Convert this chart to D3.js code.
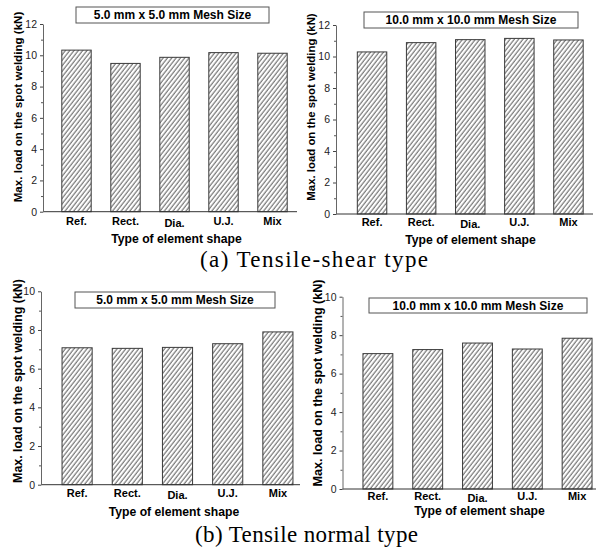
<!DOCTYPE html>
<html>
<head>
<meta charset="utf-8">
<script src="https://cdn.jsdelivr.net/npm/d3@7"></script>
<style>
  body { margin: 0; background: #fff; }
  svg { display: block; }
</style>
</head>
<body>
<div id="chart"></div>
<script>
// data
var categories = ["Ref.", "Rect.", "Dia.", "U.J.", "Mix"];
var shear5 = [10.33, 9.48, 9.87, 10.17, 10.13];
var shear10 = [10.29, 10.88, 11.07, 11.15, 11.05];
var normal5 = [7.08, 7.05, 7.10, 7.29, 7.90];
var normal10 = [7.04, 7.25, 7.59, 7.28, 7.84];
var meshLabels = ["5.0 mm x 5.0 mm Mesh Size", "10.0 mm x 10.0 mm Mesh Size"];
var shearTicks = [0, 2, 4, 6, 8, 10, 12];
var normalTicks = [0, 2, 4, 6, 8, 10];
var captions = ["(a) Tensile-shear type", "(b) Tensile normal type"];
var yTitle = "Max. load on the spot welding (kN)";
var xTitle = "Type of element shape";

// panel geometry
var panels = [
  {values: shear5, mesh: meshLabels[0], ticks: shearTicks, ymax: 12,
   axisX: 43, xEnd: 297, band: [52, 297], y0: 211.7, yTop: 24,
   box: [76, 7, 193, 16], yTitleX: 18, yTitleY: 107, yTitleSize: 11.6,
   xLabY: 224.5, xTitleY: 242.5, xTitleX: 176.5},
  {values: shear10, mesh: meshLabels[1], ticks: shearTicks, ymax: 12,
   axisX: 336, xEnd: 593, band: [347.5, 593], y0: 214, yTop: 25,
   box: [364, 12, 214, 16], yTitleX: 311, yTitleY: 107, yTitleSize: 11.4,
   xLabY: 226, xTitleY: 244, xTitleX: 470.5},
  {values: normal5, mesh: meshLabels[0], ticks: normalTicks, ymax: 10,
   axisX: 41, xEnd: 300, band: [52, 303], y0: 484.7, yTop: 291.3,
   box: [75, 292, 200, 16], yTitleX: 17.5, yTitleY: 381, yTitleSize: 12.4,
   xLabY: 497, xTitleY: 515.5, xTitleX: 174},
  {values: normal10, mesh: meshLabels[1], ticks: normalTicks, ymax: 10,
   axisX: 342.5, xEnd: 596, band: [353, 602], y0: 489, yTop: 296.7,
   box: [369, 298, 218, 15], yTitleX: 318, yTitleY: 383, yTitleSize: 12.6,
   xLabY: 499.5, xTitleY: 515, xTitleX: 479.5}
];

var outerWidth = 599,
    outerHeight = 549;

var svg = d3.select("#chart").append("svg")
    .attr("width", outerWidth)
    .attr("height", outerHeight)
    .style("font-family", "Arial, 'Liberation Sans', sans-serif");

// diagonal hatch
var defs = svg.append("defs");
defs.append("pattern")
    .attr("id", "hatch")
    .attr("patternUnits", "userSpaceOnUse")
    .attr("width", 3.4)
    .attr("height", 3.4)
    .attr("patternTransform", "rotate(38)")
  .append("line")
    .attr("x1", 1).attr("y1", 0)
    .attr("x2", 1).attr("y2", 3.4)
    .attr("stroke", "#3a3a3a")
    .attr("stroke-width", 0.85);

panels.forEach(function(p) {
  var g = svg.append("g");

  var x = d3.scaleBand()
      .domain(categories)
      .range(p.band)
      .paddingInner(0.4)
      .paddingOuter(0.2);

  var y = d3.scaleLinear()
      .domain([0, p.ymax])
      .range([p.y0, p.yTop]);

  // bars
  g.selectAll("rect.bar")
      .data(p.values)
    .enter().append("rect")
      .attr("class", "bar")
      .attr("x", function(d, i) { return x(categories[i]); })
      .attr("y", function(d) { return y(d); })
      .attr("width", x.bandwidth())
      .attr("height", function(d) { return y(0) - y(d); })
      .attr("fill", "url(#hatch)")
      .attr("stroke", "#3a3a3a")
      .attr("stroke-width", 1);

  // baseline
  g.append("line")
      .attr("x1", p.axisX).attr("x2", p.xEnd)
      .attr("y1", y(0)).attr("y2", y(0))
      .attr("stroke", "#333")
      .attr("stroke-width", 1);

  // minor ticks
  var minor = d3.range(1, p.ymax, 2);
  g.append("g")
      .attr("transform", "translate(" + p.axisX + ",0)")
      .call(d3.axisLeft(y).tickValues(minor).tickSize(2).tickFormat(""))
      .call(function(a) { a.select(".domain").remove(); a.selectAll("line").attr("stroke", "#555"); });

  // y axis
  var yAxis = g.append("g")
      .attr("transform", "translate(" + p.axisX + ",0)")
      .call(d3.axisLeft(y).tickValues(p.ticks).tickSize(3).tickPadding(3).tickSizeOuter(0));
  yAxis.select(".domain").attr("stroke", "#666");
  yAxis.selectAll("line").attr("stroke", "#444");
  yAxis.selectAll("text")
      .style("font-size", "10.5px")
      .style("font-family", "Arial, 'Liberation Sans', sans-serif")
      .attr("fill", "#222");

  // category labels
  g.selectAll("text.cat")
      .data(categories)
    .enter().append("text")
      .attr("class", "cat")
      .attr("x", function(d) { return x(d) + x.bandwidth() / 2; })
      .attr("y", function(d) { return p.xLabY + (d === "Dia." ? 2 : 0); })
      .attr("text-anchor", "middle")
      .style("font-size", "11px")
      .style("font-weight", "bold")
      .text(function(d) { return d; });

  // x title
  g.append("text")
      .attr("x", p.xTitleX)
      .attr("y", p.xTitleY)
      .attr("text-anchor", "middle")
      .style("font-size", "12.2px")
      .style("font-weight", "bold")
      .text(xTitle);

  // y title
  g.append("text")
      .attr("transform", "translate(" + (p.yTitleX + 4) + "," + p.yTitleY + ") rotate(-90)")
      .attr("text-anchor", "middle")
      .style("font-size", p.yTitleSize + "px")
      .style("font-weight", "bold")
      .text(yTitle);

  // mesh size box
  g.append("rect")
      .attr("x", p.box[0]).attr("y", p.box[1])
      .attr("width", p.box[2]).attr("height", p.box[3])
      .attr("fill", "#fff")
      .attr("stroke", "#555")
      .attr("stroke-width", 1);

  g.append("text")
      .attr("x", p.box[0] + p.box[2] / 2)
      .attr("y", p.box[1] + p.box[3] / 2 + 4.2)
      .attr("text-anchor", "middle")
      .style("font-size", "12px")
      .style("font-weight", "bold")
      .text(p.mesh);
});

// captions
svg.append("text")
    .attr("x", 314).attr("y", 267)
    .attr("text-anchor", "middle")
    .style("font-family", "'Liberation Serif', 'Times New Roman', serif")
    .style("font-size", "23px")
    .attr("textLength", 228)
    .text(captions[0]);

svg.append("text")
    .attr("x", 306.5).attr("y", 541.5)
    .attr("text-anchor", "middle")
    .style("font-family", "'Liberation Serif', 'Times New Roman', serif")
    .style("font-size", "23px")
    .attr("textLength", 223)
    .text(captions[1]);
</script>
</body>
</html>
